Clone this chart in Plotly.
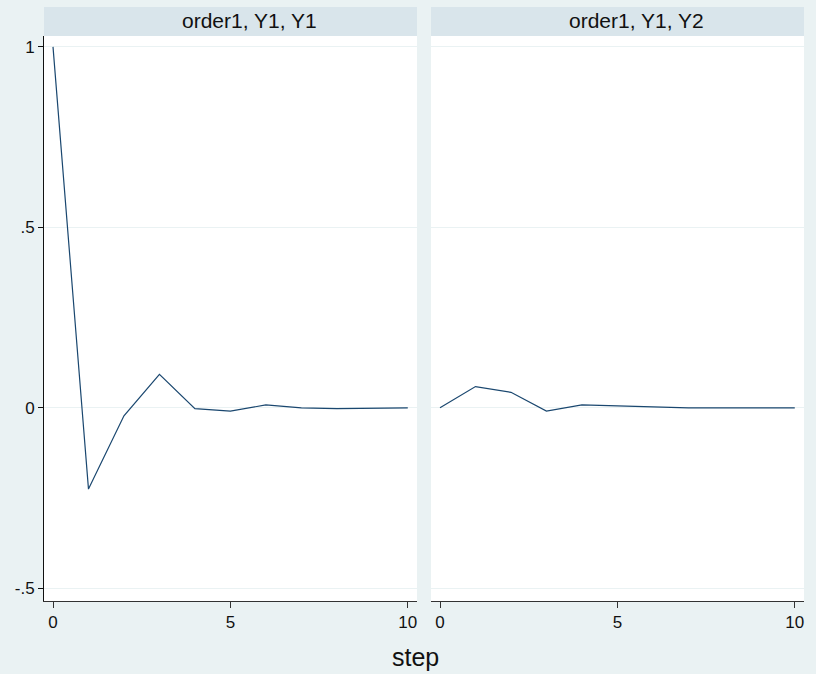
import plotly.graph_objects as go

steps = [0, 1, 2, 3, 4, 5, 6, 7, 8, 9, 10]
irf_y1_y1 = [1.0, -0.225, -0.022, 0.093, -0.002, -0.009, 0.008, 0.0, -0.002, 0.0, 0.0]
irf_y1_y2 = [0.0, 0.059, 0.043, -0.009, 0.008, 0.005, 0.001, 0.0, 0.0, 0.0, 0.0]
panel_titles = ["order1, Y1, Y1", "order1, Y1, Y2"]
ytick_vals = [-0.5, 0, 0.5, 1]
ytick_text = ["-.5", "0", ".5", "1"]
xtick_vals = [0, 5, 10]

BG = "#eaf2f3"
STRIP = "#d9e5eb"
LINE = "#1a476f"
FONT = "Liberation Sans, Arial, sans-serif"

fig = go.Figure()
fig.add_trace(go.Scatter(x=steps, y=irf_y1_y1, mode="lines", line=dict(color=LINE, width=1.2),
                         xaxis="x", yaxis="y", showlegend=False))
fig.add_trace(go.Scatter(x=steps, y=irf_y1_y2, mode="lines", line=dict(color=LINE, width=1.2),
                         xaxis="x2", yaxis="y2", showlegend=False))

PW = 760.0
PH = 565.0
d1 = [0, 373 / PW]
d2 = [387 / PW, 1]
xr = [-0.254, 10.26]
yr = [-0.535, 1.030]

xcommon = dict(range=xr, tickvals=xtick_vals, ticks="outside", ticklen=6, tickcolor="#333",
               showline=True, linecolor="#333", linewidth=1, showgrid=False, zeroline=False,
               tickfont=dict(family=FONT, size=17, color="#111"))
ycommon = dict(range=yr, tickvals=ytick_vals, ticktext=ytick_text, showgrid=True,
               gridcolor=BG, gridwidth=1, zeroline=False)

fig.update_layout(
    width=816, height=674,
    margin=dict(l=44, r=12, t=36, b=73),
    paper_bgcolor=BG, plot_bgcolor="white",
    xaxis=dict(domain=d1, anchor="y", **xcommon),
    xaxis2=dict(domain=d2, anchor="y2", **xcommon),
    yaxis=dict(anchor="x", ticks="outside", ticklen=5, tickcolor="#111", showline=True,
               linecolor="#111", linewidth=1,
               tickfont=dict(family=FONT, size=17, color="#111"), **ycommon),
    yaxis2=dict(anchor="x2", showticklabels=False, ticks="", showline=False, **ycommon),
    font=dict(family=FONT),
)

strip_top = 1 + 29 / PH
for dom, title in zip([d1, d2], panel_titles):
    fig.add_shape(type="rect", xref="paper", yref="paper", x0=dom[0], x1=dom[1],
                  y0=1, y1=strip_top, fillcolor=STRIP, line=dict(width=0), layer="below")
    fig.add_annotation(xref="paper", yref="paper", x=(dom[0] + dom[1]) / 2 + 19 / PW,
                       y=1 + 15.5 / PH,
                       text=title, showarrow=False, xanchor="center", yanchor="middle",
                       font=dict(family=FONT, size=21, color="#111"))

fig.add_annotation(xref="paper", yref="paper", x=(415.5 - 44) / PW, y=-(657 - 601) / PH,
                   text="step", showarrow=False, xanchor="center", yanchor="middle",
                   font=dict(family=FONT, size=25, color="#111"))

fig.write_html("out.html", config={"displayModeBar": False},
               post_script="document.body.style.margin='0';document.body.style.padding='0';")
